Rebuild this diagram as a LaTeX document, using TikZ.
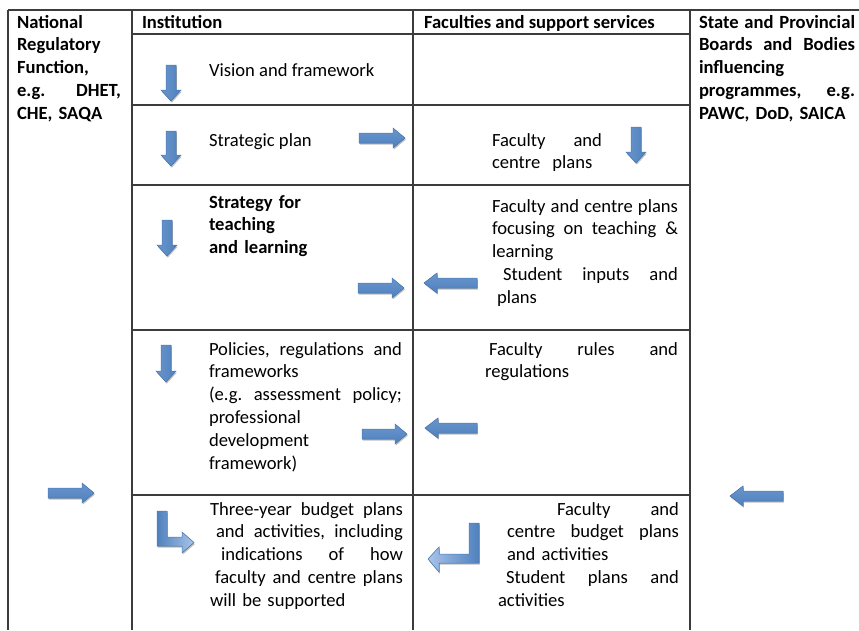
\documentclass[tikz,border=0pt]{standalone}
\usepackage{fontspec}
\setmainfont{Carlito}
\usetikzlibrary{shadows}
\frenchspacing
\definecolor{gridline}{HTML}{3C3C3C}
\definecolor{arrowdark}{HTML}{4F81BD}
\definecolor{arrowmid}{HTML}{6A95CD}
\definecolor{arrowlight}{HTML}{A9C4E8}
\definecolor{arrowedge}{HTML}{4A7EBB}
\newcommand\topstrut{\noindent\rule{0pt}{15pt}}
\newcommand\jline[2]{\leavevmode\hbox to #1pt{\spaceskip=0.226em plus 1fil\xspaceskip=0.226em plus 1fil #2}}
\newcommand\rightblock[3]{\filldraw[blockh] (#1,{#3-5}) -- ({#2-12},{#3-5}) -- ({#2-12},{#3-10}) -- (#2,#3) -- ({#2-12},{#3+10}) -- ({#2-12},{#3+5}) -- (#1,{#3+5}) -- cycle;}
\newcommand\leftblock[3]{\filldraw[blockh] (#2,{#3-5}) -- ({#1+13},{#3-5}) -- ({#1+13},{#3-10}) -- (#1,#3) -- ({#1+13},{#3+10}) -- ({#1+13},{#3+5}) -- (#2,{#3+5}) -- cycle;}
\newcommand\downblock[3]{\filldraw[blockv] ({#1-5},#2) -- ({#1+5},#2) -- ({#1+5},{#3-11}) -- ({#1+10},{#3-11}) -- (#1,#3) -- ({#1-10},{#3-11}) -- ({#1-5},{#3-11}) -- cycle;}
\begin{document}
\begin{tikzpicture}[x=1pt,y=-1pt,
  font=\fontsize{18.6}{22.8}\selectfont,
  every node/.style={inner sep=0pt,outer sep=0pt},
  grid/.style={draw=gridline,line width=1.1pt},
  cell/.style={anchor=north west,text width=#1pt},
  oneline/.style={anchor=base west},
  arrowbase/.style={draw=arrowedge,line width=0.5pt,
    drop shadow={shadow xshift=0.8pt,shadow yshift=-1.6pt,opacity=0.25,fill=black}},
  blockh/.style={arrowbase,top color=arrowmid,middle color=arrowlight,bottom color=arrowdark},
  blockv/.style={arrowbase,left color=arrowmid,middle color=arrowlight,right color=arrowdark},
  blockbr/.style={arrowbase,left color=arrowdark,right color=arrowlight},
  blockbl/.style={arrowbase,left color=arrowlight,right color=arrowdark}]
\useasboundingbox (0,0) rectangle (859,630);
\fill[white] (0,0) rectangle (859,630);
% grid
\draw[grid] (8,10) -- (859,10);
\draw[grid] (8,10) -- (8,630);
\draw[grid] (132,10) -- (132,630);
\draw[grid] (413,10) -- (413,630);
\draw[grid] (690,10) -- (690,630);
\foreach \yy in {34,105,185,330,495} \draw[grid] (132,\yy) -- (690,\yy);
% side columns
\node[cell=106,font=\fontsize{18.6}{22.8}\selectfont\bfseries] (national) at (17,13)
  {\topstrut National\\ Regulatory\\ Function,\\ \jline{104}{e.g. DHET,}\\ CHE, SAQA};
\node[cell=158,font=\fontsize{18.6}{22.8}\selectfont\bfseries] (state) at (699,13)
  {\topstrut\jline{156}{State and Provincial}\\ \jline{156}{Boards and Bodies}\\ influencing\\ \jline{156}{programmes, e.g.}\\ PAWC, DoD, SAICA};
% headers
\node[oneline,font=\fontsize{18.6}{22.8}\selectfont\bfseries] (insthead) at (142,28) {Institution};
\node[oneline,font=\fontsize{18.6}{22.8}\selectfont\bfseries] (facthead) at (424,28) {Faculties and support services};
% row 1
\node[oneline] (vision) at (209,76) {Vision and framework};
% row 2
\node[oneline] (strategic) at (209,146) {Strategic plan};
\node[cell=112] (facplans) at (492,131)
  {\topstrut\jline{110}{Faculty and}\\ centre\hspace{12pt}plans};
% row 3
\node[cell=150,font=\fontsize{18.6}{22.8}\selectfont\bfseries] (teachstrat) at (209,193)
  {\topstrut Strategy for\\ teaching\\ and learning};
\node[cell=188] (facteach) at (492,197)
  {\topstrut\jline{186}{Faculty and centre plans}\\ \jline{186}{focusing on teaching \&}\\ learning\\ \hspace*{11pt}\jline{175}{Student inputs and}\\ \hspace*{5pt}plans};
% row 4
\node[cell=195] (policies) at (209,340)
  {\topstrut\jline{193}{Policies, regulations and}\\ frameworks\\ \jline{193}{(e.g. assessment policy;}\\ professional\\ development\\ framework)};
\node[cell=195] (facrules) at (485,340)
  {\topstrut\hspace*{4pt}\jline{189}{Faculty rules and}\\ regulations};
% row 5
\node[cell=195] (budget) at (210,500)
  {\topstrut\jline{193}{Three-year budget plans}\\ \hspace*{6pt}\jline{187}{and activities, including}\\ \hspace*{11pt}\jline{182}{indications of how}\\ \hspace*{5pt}\jline{188}{faculty and centre plans}\\ will be supported};
\node[cell=183] (facbudget) at (498,500)
  {\topstrut\hspace*{59pt}\jline{122}{Faculty and}\\ \hspace*{9pt}\jline{172}{centre budget plans}\\ \hspace*{9pt}and activities\\ \hspace*{8pt}\jline{173}{Student plans and}\\ activities};
% arrows
\downblock{171}{65}{101}
\downblock{171}{131}{166}
\downblock{167}{220}{256}
\downblock{166}{345}{382}
\downblock{636}{127}{163}
\rightblock{359}{405}{138}
\rightblock{358}{404}{288}
\rightblock{362}{407}{434}
\rightblock{48}{94}{493}
\leftblock{424}{477}{283}
\leftblock{425}{477}{428}
\leftblock{730}{783}{496}
\filldraw[blockbr] (157,511) -- (167,511) -- (167,537) -- (182,537) -- (182,532) -- (194,542.5) -- (182,553) -- (182,546) -- (157,546) -- cycle;
\filldraw[blockbl] (469,523) -- (479,523) -- (479,563) -- (439,563) -- (439,572) -- (428,559) -- (439,547) -- (439,554) -- (469,554) -- cycle;
\end{tikzpicture}
\end{document}
